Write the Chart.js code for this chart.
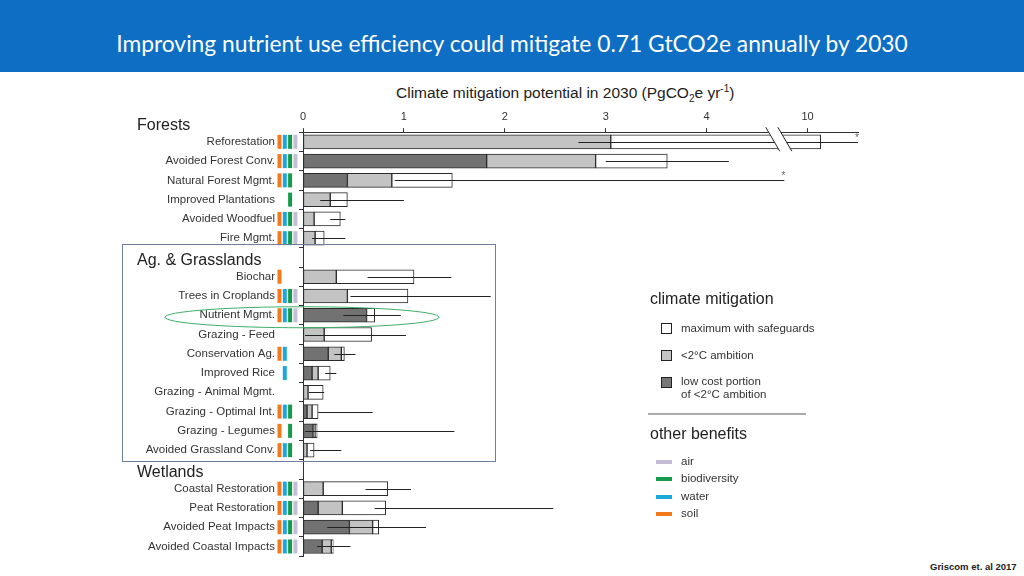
<!DOCTYPE html>
<html>
<head>
<meta charset="utf-8">
<script src="https://cdn.jsdelivr.net/npm/chart.js@4.4.1/dist/chart.umd.min.js"></script>
<style>
  body { margin: 0; width: 1024px; height: 576px; position: relative; overflow: hidden; background: #fff;
         font-family: "Liberation Sans", Arial, sans-serif; color: #222; }
  .banner { position: absolute; left: 0; top: 0; width: 1024px; height: 72px; background: #0d6ec4;
            color: #fff; font-family: Lato, "Open Sans", sans-serif; font-size: 22.8px; line-height: 86px; text-align: center; }
  .axis-title { position: absolute; left: 396px; top: 83px; font-size: 15.5px; color: #222; white-space: nowrap; }
  .axis-title sub, .axis-title sup { font-size: 10px; }
  .chart-box { position: absolute; left: 120px; top: 76px; width: 760px; height: 511px; }
  .lg-head { position: absolute; left: 650px; font-size: 16px; color: #222; }
  .lg-box { position: absolute; left: 661px; width: 9px; height: 9px; border: 1px solid #222; }
  .lg-line { position: absolute; left: 656px; width: 16px; height: 4px; }
  .lg-text { position: absolute; left: 681px; font-size: 11.5px; color: #333; line-height: 13px; }
  .rule { position: absolute; left: 648px; top: 413px; width: 158px; height: 2px; background: #aaa; }
  .cite { position: absolute; left: 930px; top: 561px; font-size: 9.5px; font-weight: bold; color: #222; }
</style>
</head>
<body>
<div class="banner">Improving nutrient use efficiency could mitigate 0.71 GtCO2e annually by 2030</div>
<div class="axis-title">Climate mitigation potential in 2030 (PgCO<sub>2</sub>e yr<sup>-1</sup>)</div>
<div class="chart-box"><canvas id="chart" width="760" height="511"></canvas></div>

<div class="lg-head" style="top:290px">climate mitigation</div>
<div class="lg-box" style="top:323px;background:#fff"></div>
<div class="lg-text" style="top:322px">maximum with safeguards</div>
<div class="lg-box" style="top:350px;background:#c3c3c3"></div>
<div class="lg-text" style="top:349px">&lt;2°C ambition</div>
<div class="lg-box" style="top:377px;background:#777"></div>
<div class="lg-text" style="top:375px">low cost portion<br>of &lt;2°C ambition</div>
<div class="rule"></div>
<div class="lg-head" style="top:425px">other benefits</div>
<div class="lg-line" style="top:460px;background:#c4bdd6"></div>
<div class="lg-text" style="top:455px">air</div>
<div class="lg-line" style="top:477px;background:#16994a"></div>
<div class="lg-text" style="top:472px">biodiversity</div>
<div class="lg-line" style="top:495px;background:#1ba8dc"></div>
<div class="lg-text" style="top:490px">water</div>
<div class="lg-line" style="top:512px;background:#f07a1c"></div>
<div class="lg-text" style="top:507px">soil</div>
<div class="cite">Griscom et. al 2017</div>

<script>
// rows ('' = spacer row under a group heading)
const categories = ['Reforestation', 'Avoided Forest Conv.', 'Natural Forest Mgmt.', 'Improved Plantations',
  'Avoided Woodfuel', 'Fire Mgmt.', '',
  'Biochar', 'Trees in Croplands', 'Nutrient Mgmt.', 'Grazing - Feed', 'Conservation Ag.', 'Improved Rice',
  'Grazing - Animal Mgmt.', 'Grazing - Optimal Int.', 'Grazing - Legumes', 'Avoided Grassland Conv.', '',
  'Coastal Restoration', 'Peat Restoration', 'Avoided Peat Impacts', 'Avoided Coastal Impacts'];

const groupNames = ['Forests', 'Ag. & Grasslands', 'Wetlands'];
const groupRows = [-1, 6, 17];

// PgCO2e / yr
const lowCost  = [0, 1.82, 0.44, 0, 0, 0, null, 0, 0, 0.63, 0, 0.25, 0.09, 0, 0.04, 0.10, 0, null, 0, 0.15, 0.46, 0.19];
const ambition = [3.05, 2.90, 0.88, 0.27, 0.11, 0.12, null, 0.33, 0.44, 0.63, 0.21, 0.38, 0.15, 0.05, 0.09, 0.12, 0.04, null, 0.20, 0.39, 0.69, 0.28];
const maximum  = [10.13, 3.61, 1.48, 0.44, 0.37, 0.21, null, 1.10, 1.04, 0.71, 0.68, 0.41, 0.27, 0.20, 0.15, 0.14, 0.11, null, 0.84, 0.82, 0.75, 0.30];
const errLow   = [2.73, 3.00, 0.91, 0.17, 0.27, 0.09, null, 0.64, 0.47, 0.40, 0.02, 0.31, 0.22, 0.06, 0.15, 0.02, 0.07, null, 0.62, 0.71, 0.24, 0.14];
const errHigh  = [10.5, 4.22, 4.77, 1.00, 0.42, 0.42, null, 1.47, 1.86, 0.97, 1.02, 0.52, 0.33, 0.21, 0.69, 1.50, 0.38, null, 1.07, 2.48, 1.22, 0.47];
const truncated = ['Reforestation', 'Natural Forest Mgmt.'];

// other benefits, 1 = yes
const soil         = [1, 1, 1, 0, 1, 1, 0, 1, 1, 1, 0, 1, 0, 0, 1, 1, 1, 0, 1, 1, 1, 1];
const water        = [1, 1, 1, 0, 1, 1, 0, 0, 1, 1, 0, 1, 1, 0, 1, 0, 1, 0, 1, 1, 1, 1];
const biodiversity = [1, 1, 1, 1, 1, 1, 0, 0, 1, 1, 0, 0, 0, 0, 1, 1, 1, 0, 1, 1, 1, 1];
const air          = [1, 1, 0, 0, 1, 1, 0, 0, 1, 1, 0, 0, 0, 0, 0, 0, 0, 0, 1, 1, 1, 1];

const xTicks = [0, 1, 2, 3, 4, 10];

// broken axis: everything above 5 is pulled back by 5 (10 sits just after 4)
const breakAt = 5, breakShift = 5;
const toAxis = v => v > breakAt ? v - breakShift : v;
const fromAxis = v => v > breakAt - 0.5 ? v + breakShift : v;

const seg = (a, b) => (a == null || b == null || b <= a) ? null : [toAxis(a), toAxis(b)];

const benefitRows = [soil, water, biodiversity, air];
const benefitColors = ['#f07a1c', '#1ba8dc', '#16994a', '#c4bdd6'];

const overlay = {
  id: 'overlay',
  afterDatasetsDraw(chart) {
    const { ctx, scales: { x, y } } = chart;
    ctx.save();
    ctx.strokeStyle = '#222';
    ctx.lineWidth = 1;
    errLow.forEach((lo, i) => {
      if (lo == null) return;
      const py = Math.round(y.getPixelForValue(i)) + 0.5;
      ctx.beginPath();
      ctx.moveTo(x.getPixelForValue(toAxis(lo)), py);
      ctx.lineTo(x.getPixelForValue(toAxis(errHigh[i])), py);
      ctx.stroke();
    });
    ctx.fillStyle = '#666';
    ctx.font = '10px "Liberation Sans"';
    ctx.textAlign = 'center';
    ctx.textBaseline = 'middle';
    truncated.forEach(name => {
      const i = categories.indexOf(name);
      ctx.fillText('*', x.getPixelForValue(toAxis(errHigh[i])) - 1, y.getPixelForValue(i) - 4);
    });
    ctx.restore();
  },
  afterDraw(chart) {
    const { ctx, chartArea, scales: { x, y } } = chart;
    ctx.save();
    // axis break
    const top = chartArea.top - 5, bot = chartArea.top + 19;
    const b1 = x.getPixelForValue(4.655), b2 = x.getPixelForValue(4.775);
    ctx.fillStyle = '#fff';
    ctx.beginPath();
    ctx.moveTo(b1 - 7, top); ctx.lineTo(b2 - 7, top);
    ctx.lineTo(b2 + 7, bot); ctx.lineTo(b1 + 7, bot);
    ctx.closePath();
    ctx.fill();
    ctx.strokeStyle = '#222';
    ctx.lineWidth = 1;
    [b1, b2].forEach(b => {
      ctx.beginPath(); ctx.moveTo(b - 7, top); ctx.lineTo(b + 7, bot); ctx.stroke();
    });

    // other-benefit swatches
    benefitRows.forEach((flags, k) => {
      ctx.fillStyle = benefitColors[k];
      flags.forEach((on, i) => {
        if (!on) return;
        const py = y.getPixelForValue(i);
        ctx.fillRect(chartArea.left - 25.5 + k * 5.3, py - 7, 4, 14);
      });
    });

    // group headings
    ctx.fillStyle = '#222';
    ctx.font = '16px "Liberation Sans"';
    ctx.textAlign = 'left';
    ctx.textBaseline = 'middle';
    groupNames.forEach((g, k) => {
      ctx.fillText(g, chartArea.left - 166, y.getPixelForValue(groupRows[k]) + 3);
    });

    // Ag. & Grasslands frame
    ctx.strokeStyle = '#6f7f99';
    ctx.lineWidth = 1;
    const fy1 = Math.round(y.getPixelForValue(6) - 13) + 0.5;
    const fy2 = Math.round(y.getPixelForValue(16) + 11) + 0.5;
    const fx1 = chartArea.left - 180.5;
    const fx2 = Math.round(x.getPixelForValue(1.905)) + 0.5;
    ctx.strokeRect(fx1, fy1, fx2 - fx1, fy2 - fy1);

    // highlight around Nutrient Mgmt.
    const ni = categories.indexOf('Nutrient Mgmt.');
    ctx.strokeStyle = '#3fae68';
    ctx.beginPath();
    ctx.ellipse(chartArea.left - 1, y.getPixelForValue(ni) + 2, 137, 10.5, 0, 0, Math.PI * 2);
    ctx.stroke();
    ctx.restore();
  }
};

const labelFont = { family: '"Liberation Sans", Arial, sans-serif', size: 11.5 };

new Chart(document.getElementById('chart'), {
  type: 'bar',
  data: {
    labels: categories,
    datasets: [
      { label: 'low cost portion of <2°C ambition', data: categories.map((c, i) => seg(0, lowCost[i])), backgroundColor: '#727272' },
      { label: '<2°C ambition', data: categories.map((c, i) => seg(lowCost[i], ambition[i])), backgroundColor: '#c3c3c3' },
      { label: 'maximum with safeguards', data: categories.map((c, i) => seg(ambition[i], maximum[i])), backgroundColor: '#ffffff' }
    ]
  },
  options: {
    indexAxis: 'y',
    responsive: false,
    animation: false,
    layout: { padding: { top: 29, right: 22, bottom: 4, left: 0 } },
    datasets: {
      bar: { grouped: false, barThickness: 14, borderWidth: 1, borderColor: '#2a2a2a', borderSkipped: false }
    },
    scales: {
      x: {
        position: 'top',
        min: 0,
        max: 5.5,
        afterBuildTicks: s => { s.ticks = xTicks.map(v => ({ value: toAxis(v) })); },
        ticks: { callback: v => String(fromAxis(v)), font: { ...labelFont, size: 11 }, color: '#333', padding: 5, maxRotation: 0 },
        grid: { drawOnChartArea: false, tickLength: 4, color: '#333' },
        border: { color: '#333' }
      },
      y: {
        ticks: { font: labelFont, color: '#333', padding: 24, autoSkip: false },
        grid: { drawOnChartArea: false, tickLength: 4, offset: true, color: '#333' },
        border: { color: '#333' },
        afterFit: s => { s.width = 183; }
      }
    },
    plugins: { legend: { display: false }, tooltip: { enabled: false } }
  },
  plugins: [overlay]
});
</script>
</body>
</html>
